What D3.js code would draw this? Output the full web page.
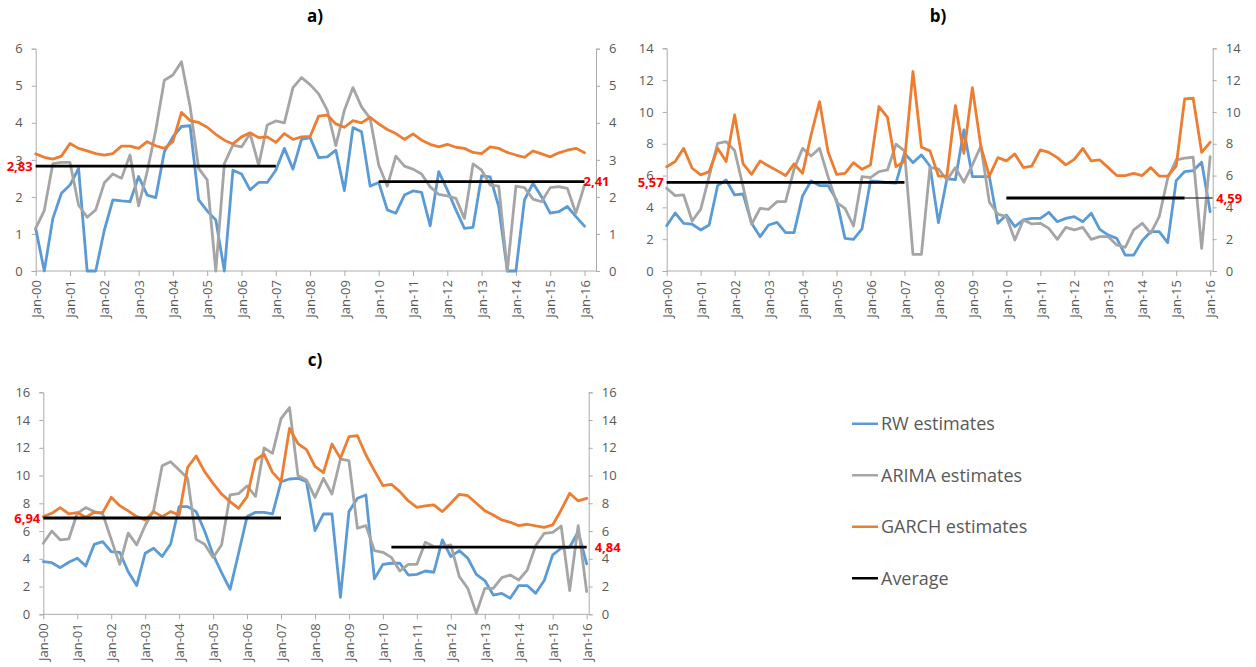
<!DOCTYPE html>
<html><head><meta charset="utf-8">
<script src="https://cdn.jsdelivr.net/npm/d3@7"></script>
<style>body{margin:0;background:#fff} svg{display:block}</style>
</head><body>
<svg id="chart" width="1256" height="667"></svg>
<script>
// ---------- DATA ----------
const yearTicks = ["Jan-00","Jan-01","Jan-02","Jan-03","Jan-04","Jan-05","Jan-06","Jan-07","Jan-08",
                   "Jan-09","Jan-10","Jan-11","Jan-12","Jan-13","Jan-14","Jan-15","Jan-16"];
const seriesNames = ["RW estimates","ARIMA estimates","GARCH estimates","Average"];

// Panel a) quarterly values Jan-00 .. Jan-16
const rwA = [1.15,0,1.42,2.1,2.32,2.77,0,0,1.1,1.92,
  1.89,1.87,2.55,2.05,1.98,3.22,3.62,3.9,3.92,1.92,
  1.62,1.38,0,2.72,2.62,2.19,2.39,2.39,2.72,3.31,
  2.75,3.55,3.6,3.06,3.08,3.26,2.17,3.87,3.76,2.29,
  2.39,1.65,1.56,2.05,2.16,2.12,1.22,2.68,2.19,1.65,
  1.15,1.18,2.57,2.54,1.74,0,0,1.92,2.37,2.0,
  1.56,1.6,1.74,1.47,1.21];
const arimaA = [1.15,1.63,2.9,2.93,2.93,1.78,1.45,1.65,2.38,2.62,
  2.5,3.13,1.76,2.68,3.8,5.15,5.29,5.65,4.45,2.77,
  2.46,0,2.9,3.4,3.35,3.71,2.86,3.94,4.05,4.0,
  4.95,5.22,5.03,4.78,4.34,3.38,4.34,4.95,4.43,4.12,
  2.86,2.29,3.1,2.83,2.75,2.62,2.27,2.07,2.03,1.96,
  1.42,2.89,2.72,2.32,2.29,0,2.29,2.25,1.94,1.87,
  2.25,2.28,2.23,1.56,2.32];
const garchA = [3.16,3.07,3.02,3.1,3.44,3.31,3.24,3.17,3.13,3.17,
  3.37,3.37,3.31,3.49,3.38,3.31,3.49,4.28,4.06,4.01,
  3.88,3.69,3.53,3.43,3.62,3.73,3.6,3.62,3.47,3.71,
  3.55,3.62,3.63,4.18,4.21,3.97,3.88,4.06,4.0,4.15,
  3.97,3.82,3.71,3.55,3.7,3.53,3.42,3.35,3.42,3.34,
  3.31,3.2,3.17,3.35,3.31,3.2,3.13,3.07,3.24,3.16,
  3.08,3.19,3.26,3.31,3.19];
const avgA = [2.83, 2.41];
const avgStartA = [0, 40];
const avgEndA = [28, 64];

// Panel b)
const rwB = [2.85,3.65,3.0,2.94,2.58,2.89,5.37,5.72,4.78,4.84,
  3.0,2.16,2.89,3.06,2.41,2.41,4.72,5.66,5.37,5.37,
  4.47,2.05,1.99,2.65,5.66,5.62,5.56,5.52,7.4,6.81,
  7.3,6.6,3.04,5.8,5.75,8.87,5.93,5.93,5.93,3.0,
  3.52,2.79,3.21,3.31,3.31,3.69,3.1,3.31,3.42,3.1,
  3.63,2.62,2.26,2.05,1.0,1.0,1.91,2.47,2.47,1.78,
  5.68,6.25,6.31,6.83,3.73];
const arimaB = [5.2,4.74,4.78,3.14,3.88,5.95,8.03,8.13,7.57,5.3,
  2.94,3.94,3.88,4.36,4.36,6.4,7.71,7.23,7.71,5.93,
  4.32,3.94,2.83,5.93,5.87,6.25,6.35,7.97,7.55,1.05,
  1.05,6.5,6.42,5.72,6.5,5.58,6.67,7.86,4.32,3.58,
  3.42,1.95,3.21,2.96,3.0,2.68,1.99,2.74,2.58,2.74,
  1.99,2.16,2.16,1.64,1.49,2.58,3.0,2.37,3.42,5.83,
  6.98,7.09,7.15,1.43,7.19];
const garchB = [6.55,6.88,7.71,6.46,6.04,6.25,7.71,6.88,9.81,6.73,
  6.08,6.92,6.6,6.31,6.0,6.73,6.14,8.55,10.65,7.5,
  6.08,6.14,6.81,6.39,6.67,10.34,9.66,6.56,6.88,12.54,
  7.78,7.55,5.97,5.97,10.4,7.4,11.53,7.82,5.97,7.13,
  6.92,7.36,6.5,6.6,7.61,7.46,7.13,6.67,7.02,7.71,
  6.92,6.98,6.5,6.0,6.0,6.14,6.0,6.5,5.97,5.97,
  6.6,10.82,10.86,7.46,8.09];
const avgB = [5.57, 4.59];
const avgStartB = [0, 40];
const avgEndB = [28, 61];

// Panel c)
const rwC = [3.8,3.72,3.36,3.75,4.04,3.48,5.04,5.24,4.52,4.47,
  3.07,2.07,4.4,4.76,4.16,5.07,7.76,7.76,7.4,6.0,
  4.3,3.0,1.8,4.4,7.04,7.35,7.35,7.23,9.55,9.75,
  9.8,9.55,6.03,7.23,7.23,1.23,7.4,8.36,8.6,2.55,
  3.6,3.68,3.68,2.83,2.88,3.12,3.03,5.36,4.16,4.59,
  4.04,2.88,2.43,1.39,1.51,1.15,2.07,2.07,1.51,2.43,
  4.28,4.76,4.83,5.96,3.63];
const arimaC = [5.12,6.0,5.36,5.43,7.28,7.69,7.4,7.23,5.4,3.6,
  5.85,5.0,6.4,7.5,10.7,11.0,10.4,9.8,5.4,5.05,
  4.1,5.0,8.6,8.7,9.25,8.5,12.0,11.6,14.1,14.9,
  10.0,9.68,8.43,9.8,8.67,11.19,11.07,6.2,6.39,4.59,
  4.47,4.1,3.12,3.6,3.6,5.19,4.88,4.88,5.0,2.71,
  1.87,0.07,1.87,1.87,2.64,2.83,2.47,3.19,4.95,5.84,
  5.91,6.36,1.71,6.39,1.63];
const garchC = [7.04,7.28,7.69,7.23,7.33,6.99,7.35,7.33,8.43,7.83,
  7.45,7.04,6.8,7.4,7.04,7.4,7.16,10.59,11.41,10.28,
  9.44,8.67,8.12,7.64,8.48,11.12,11.55,10.23,9.56,13.4,
  12.3,11.87,10.66,10.21,12.27,11.24,12.8,12.87,11.48,10.35,
  9.27,9.37,8.84,8.17,7.71,7.81,7.88,7.4,8.0,8.65,
  8.55,8.0,7.47,7.16,6.8,6.63,6.39,6.49,6.37,6.27,
  6.44,7.52,8.72,8.17,8.36];
const avgC = [6.94, 4.84];
const avgStartC = [0, 41];
const avgEndC = [28, 64];

// ---------- LAYOUT / STYLE ----------
const colors = {rw:"#5B9BD5", arima:"#A5A5A5", garch:"#ED7D31", avg:"#000000"};
const axisColor = "#ABABAB", labelColor = "#595959";
const FONT = "'Open Sans', 'Noto Sans', sans-serif";

const panels = [
  {title:"a)", rw:rwA, arima:arimaA, garch:garchA, avg:avgA, s:avgStartA, e:avgEndA,
   yMax:6, yStep:1, l:35.7, r:596, t:48.7, b:271, xMax:65.34, tx:315, ty:22, lab2dx:-1, tail:false},
  {title:"b)", rw:rwB, arima:arimaB, garch:garchB, avg:avgB, s:avgStartB, e:avgEndB,
   yMax:14, yStep:2, l:666.7, r:1212.7, t:48.3, b:271, xMax:64.3, tx:938, ty:22, lab2dx:6, tail:true},
  {title:"c)", rw:rwC, arima:arimaC, garch:garchC, avg:avgC, s:avgStartC, e:avgEndC,
   yMax:16, yStep:2, l:43.3, r:588.7, t:392.3, b:614.3, xMax:64.24, tx:315, ty:366, lab2dx:8, tail:false}
];

const svg = d3.select("#chart");
const fmt = v => v.toFixed(2).replace(".", ",");

panels.forEach(p => {
  const x = d3.scaleLinear().domain([0, p.xMax]).range([p.l, p.r]);
  const y = d3.scaleLinear().domain([0, p.yMax]).range([p.b, p.t]);
  const g = svg.append("g");
  const yTicks = d3.range(0, p.yMax + 0.001, p.yStep);

  // axes
  const yl = d3.axisLeft(y).tickValues(yTicks).tickSize(4).tickPadding(9).tickFormat(d3.format("d"));
  const yr = d3.axisRight(y).tickValues(yTicks).tickSize(4).tickPadding(9).tickFormat(d3.format("d"));
  const xa = d3.axisBottom(x).tickValues(yearTicks.map((d,i)=>i*4)).tickSize(5)
               .tickFormat((d,i)=>yearTicks[i]);
  [[yl, p.l, 0], [yr, p.r, 0]].forEach(([ax, tx]) => {
    const a = g.append("g").attr("transform", `translate(${tx},0)`).call(ax);
    a.select(".domain").attr("stroke", axisColor);
    a.selectAll(".tick line").attr("stroke", axisColor);
    a.selectAll("text").attr("fill", labelColor).style("font", `13px ${FONT}`);
  });
  const xg = g.append("g").attr("transform", `translate(0,${p.b})`).call(xa);
  xg.select(".domain").attr("stroke", axisColor).attr("d", `M${p.l},0H${p.r}`);
  xg.selectAll(".tick line").attr("stroke", axisColor);
  xg.selectAll("text").attr("fill", labelColor).style("font", `13px ${FONT}`)
    .attr("transform", "rotate(-90)").attr("text-anchor", "end")
    .attr("x", -9).attr("y", 0).attr("dy", "0.36em");

  // series
  const line = d3.line().x((d,i)=>x(i)).y(d=>y(d));
  [["rw", p.rw], ["arima", p.arima], ["garch", p.garch]].forEach(([k, data]) => {
    g.append("path").datum(data).attr("d", line).attr("fill", "none")
      .attr("stroke", colors[k]).attr("stroke-width", 2.8)
      .attr("stroke-linejoin", "round").attr("stroke-linecap", "round");
  });

  // averages
  p.avg.forEach((v, j) => {
    const pts = d3.range(p.s[j], p.e[j] + 1).map(i => [x(i), y(v)]);
    g.append("path").attr("d", d3.line()(pts)).attr("fill","none")
      .attr("stroke", colors.avg).attr("stroke-width", 2.8);
  });
  if (p.tail) {
    const v = p.avg[1];
    g.append("line").attr("x1", x(p.e[1])).attr("x2", p.r).attr("y1", y(v)).attr("y2", y(v))
      .attr("stroke", "#333").attr("stroke-width", 1.3);
  }
  // value labels
  g.append("text").attr("x", x(p.s[0]) - 3).attr("y", y(p.avg[0])).attr("dy", "0.35em")
    .attr("text-anchor", "end").attr("fill", "#FF0000")
    .style("font", `bold 13px ${FONT}`).text(fmt(p.avg[0]));
  g.append("text").attr("x", x(64) + p.lab2dx).attr("y", y(p.avg[1])).attr("dy", "0.35em")
    .attr("text-anchor", "start").attr("fill", "#FF0000")
    .style("font", `bold 13px ${FONT}`).text(fmt(p.avg[1]));

  // title
  g.append("text").attr("x", p.tx).attr("y", p.ty).attr("text-anchor", "middle")
    .attr("fill", "#000").style("font", `bold 17px ${FONT}`).text(p.title);
});

// legend
const legendKeys = ["rw","arima","garch","avg"];
const ly = d3.scaleBand().domain(legendKeys).range([398, 604]);
const lg = svg.append("g");
legendKeys.forEach((k, i) => {
  const cy = ly(k) + ly.bandwidth()/2;
  lg.append("line").attr("x1", 852).attr("x2", 878).attr("y1", cy).attr("y2", cy)
    .attr("stroke", colors[k]).attr("stroke-width", 2.5);
  lg.append("text").attr("x", 881).attr("y", cy).attr("dy", "0.36em")
    .attr("fill", labelColor).style("font", `18px ${FONT}`).text(seriesNames[i]);
});
</script>
</body></html>
